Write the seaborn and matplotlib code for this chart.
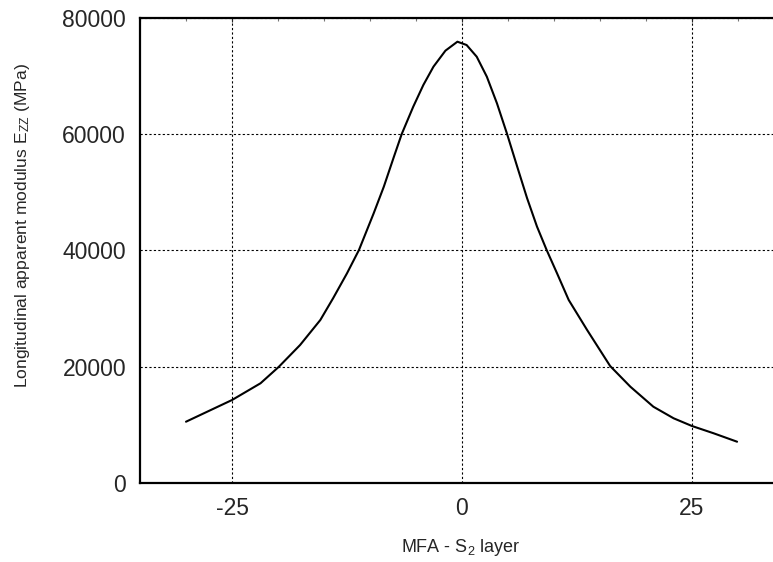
import numpy as np
import pandas as pd
import seaborn as sns
import matplotlib.pyplot as plt
from matplotlib.ticker import MultipleLocator

# values
mfa = [-30.0, -25.0, -21.9, -19.9, -17.6, -15.4, -14.0, -12.5, -11.2, -9.6,
       -8.5, -7.4, -6.55, -5.3, -4.2, -3.1, -1.8, -0.5, 0.5, 1.6,
       2.7, 3.8, 4.9, 6.0, 7.07, 8.15, 9.2, 10.33, 11.6, 13.6,
       16.1, 18.3, 20.8, 23.0, 25.0, 27.35, 29.9]
ezz = [10540, 14270, 17150, 20000, 23730, 28030, 31800, 36060, 40070, 46380,
       50950, 56110, 60020, 64710, 68450, 71600, 74350, 75890, 75320, 73310,
       69870, 65290, 60020, 54400, 49000, 44100, 40070, 36060, 31470, 26310,
       20120, 16560, 13120, 11130, 9800, 8550, 7100]

x_ticks = [-25, 0, 25]
y_ticks = [0, 20000, 40000, 60000, 80000]

df = pd.DataFrame({"mfa": mfa, "ezz": ezz})

sns.set_style("white")
plt.rcParams['font.family'] = ['Liberation Sans', 'DejaVu Sans']
plt.rcParams['mathtext.fontset'] = 'custom'
plt.rcParams['mathtext.rm'] = 'Liberation Sans'
plt.rcParams['mathtext.it'] = 'Liberation Sans:italic'

fig = plt.figure(figsize=(7.73, 5.62), dpi=100)
ax = fig.add_axes([140 / 773, 79 / 562, 644 / 773, 465.2 / 562])

sns.lineplot(data=df, x="mfa", y="ezz", color="black", linewidth=1.5, ax=ax)

ax.set_xlim(-35, 35)
ax.set_ylim(0, 80000)
ax.set_xticks(x_ticks)
ax.set_yticks(y_ticks)
ax.set_xticklabels([str(v) for v in x_ticks])
ax.set_yticklabels([str(v) for v in y_ticks])
ax.xaxis.set_minor_locator(MultipleLocator(5))
ax.yaxis.set_minor_locator(MultipleLocator(5000))
ax.tick_params(which="both", direction="in", top=True, right=True)
ax.tick_params(which="major", length=3, width=0.8, labelsize=16.5, pad=10)
ax.tick_params(which="minor", length=2.5, width=0.8, color="#777777")

ax.grid(True, which="major", color="black", linestyle=(0, (2, 2)), linewidth=0.8)
for s in ax.spines.values():
    s.set_linewidth(1.6)
    s.set_color("black")

ax.set_xlabel("")
ax.set_ylabel("")
fig.text(461 / 773, 1 - 548 / 562, r"MFA - S$_{\mathregular{2}}$ layer",
         ha="center", va="center", fontsize=13)
fig.text(23 / 773, 1 - 226 / 562, r"Longitudinal apparent modulus E$_{\mathregular{ZZ}}$ (MPa)",
         ha="center", va="center", rotation=90, fontsize=12.6)

fig.savefig("out.png", dpi=100)
